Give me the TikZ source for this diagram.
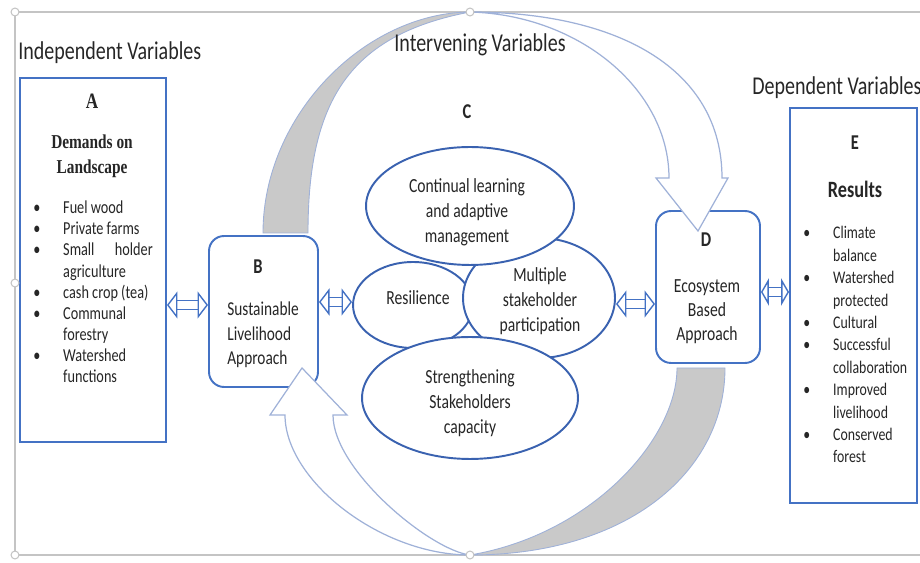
\documentclass[tikz,border=0pt]{standalone}
\usepackage{fontspec}
\setmainfont{Carlito}[FakeStretch=0.78]
\newfontfamily\timesfont{Liberation Serif}[FakeStretch=0.78]
\usetikzlibrary{shapes.geometric,arrows.meta}
\definecolor{boxblue}{HTML}{4472C4}
\definecolor{ovalblue}{HTML}{3A62B0}
\definecolor{bandgray}{HTML}{C9C9C9}
\definecolor{bandline}{HTML}{9FB1D8}
\definecolor{framegray}{HTML}{C4C4C4}
\definecolor{inktext}{HTML}{262626}
\newcommand{\bitem}{\makebox[17pt][l]{\textbullet}}
\newcommand{\bpad}{\hspace*{17pt}}

\begin{document}
\begin{tikzpicture}[x=0.02cm,y=-0.02cm,
  every node/.style={text=inktext,inner sep=0pt},
  framebox/.style={draw=boxblue,line width=1.1pt,fill=white},
  roundbox/.style={framebox,rounded corners=0.3cm},
  oval/.style={ellipse,draw=ovalblue,line width=1.1pt,fill=white},
  ovaltext/.style={align=center,font=\fontsize{11.4}{14.2}\selectfont},
  heading/.style={font=\fontsize{14.6}{17}\selectfont},
  letter/.style={font=\fontsize{12}{14}\selectfont\bfseries},
  band/.style={fill=bandgray,draw=bandline,line width=0.5pt},
  hollow/.style={fill=white,draw=bandline,line width=0.7pt},
  link/.style={draw=boxblue,line width=0.8pt,double=white,double distance=4.6pt,
    {Triangle[open,length=#1,width=15.5pt]}-{Triangle[open,length=#1,width=15.5pt]}},
  link/.default=6pt,
  handle/.style={circle,draw=framegray,fill=white,line width=0.6pt,minimum size=4.5pt}]
  \useasboundingbox (0,0) rectangle (920,563);
  % outer frame of the figure
  \draw[framegray,line width=0.7pt] (920,12) -- (15,12) -- (15,555) -- (920,555);
  % back (grey) parts of the two curved arrows
  \draw[band] (263,233) .. controls (263,115) and (365,13) .. (470,12)
    .. controls (350,35) and (308,100) .. (308,233) -- cycle;
  \draw[band] (725,368) .. controls (725,470) and (630,555) .. (470,555)
    .. controls (590,535) and (677,440) .. (677,368) -- cycle;
  % A B D E
  \node[framebox,minimum width=2.92cm,minimum height=7.28cm] (boxA) at (93,260) {};
  \node[roundbox,minimum width=2.18cm,minimum height=3.02cm] (boxB) at (263.5,311.5) {};
  \node[roundbox,minimum width=2.08cm,minimum height=3.04cm] (boxD) at (708,287) {};
  \node[framebox,minimum width=2.54cm,minimum height=7.9cm] (boxE) at (853.5,305.5) {};
  % C
  \node[oval,minimum width=2.4cm,minimum height=1.72cm] (res) at (413,305) {};
  \node[oval,minimum width=3.04cm,minimum height=2.4cm] (mult) at (539,298) {};
  \node[oval,minimum width=4.16cm,minimum height=2.36cm] (learn) at (470,206) {};
  \node[oval,minimum width=4.32cm,minimum height=2.44cm] (capac) at (470,398) {};
  \node[ovaltext] (resT) at (418,298) {Resilience};
  \node[ovaltext] (multT) at (540,301) {Multiple\\stakeholder\\participation};
  \node[ovaltext] (learnT) at (467,212) {Continual learning\\and adaptive\\management};
  \node[ovaltext] (capacT) at (470,403) {Strengthening\\Stakeholders\\capacity};
  % front (white) parts with heads
  \draw[hollow] (470,12) .. controls (620,12) and (722,70) .. (722,178) -- (728,178)
    -- (698,231) -- (656,178) -- (669,178) .. controls (669,90) and (580,15) .. (470,12) -- cycle;
  \draw[hollow] (470,555) .. controls (380,555) and (285,480) .. (285,415) -- (270,415)
    -- (302,368) -- (347,415) -- (333,415) .. controls (333,470) and (430,550) .. (470,555) -- cycle;
  \node[handle] (h1) at (15,12) {};
  \node[handle] (h2) at (470,12) {};
  \node[handle] (h3) at (15,283) {};
  \node[handle] (h4) at (15,555) {};
  \node[handle] (h5) at (470,555) {};
  % two-way links
  \draw[link] (boxA.east |- 0,305) -- (boxB.west |- 0,305);
  \draw[link] (boxB.east |- 0,302) -- (res.west |- 0,302);
  \draw[link] (mult.east |- 0,304) -- (boxD.west |- 0,304);
  \draw[link=4.5pt] (boxD.east |- 0,292) -- (boxE.west |- 0,292);
  % texts
  \node[heading,anchor=west] (indep) at (18,53) {Independent Variables};
  \node[heading] (interv) at (480,45) {Intervening Variables};
  \node[heading,anchor=west] (dep) at (752,88) {Dependent Variables};
  \node[font={\timesfont\fontsize{12.5}{14}\selectfont\bfseries}] (letA) at (92,101) {A};
  \node[font={\timesfont\fontsize{11.2}{14.2}\selectfont\bfseries},align=center] (demand) at (92,156) {Demands on\\Landscape};
  \node[anchor=base west,align=left,font=\fontsize{10.4}{12.05}\selectfont] (listA) at (33,383)
    {\bitem Fuel wood\\ \bitem Private farms\\ \bitem\makebox[51pt][s]{Small\hfill holder}\\ \bpad agriculture\\
     \bitem cash crop (tea)\\ \bitem Communal\\ \bpad forestry\\ \bitem Watershed\\ \bpad functions};
  \node[letter] (letB) at (258,267) {B};
  \node[anchor=base west,align=left,font=\fontsize{11.2}{14.2}\selectfont] (textB) at (227,365)
    {Sustainable\\Livelihood\\Approach};
  \node[letter] (letC) at (467,112) {C};
  \node[letter] (letD) at (706,240) {D};
  \node[align=center,font=\fontsize{11.4}{13.6}\selectfont] (textD) at (707,312) {Ecosystem\\Based\\Approach};
  \node[letter] (letE) at (855,143) {E};
  \node[font=\fontsize{13.3}{15}\selectfont\bfseries] (resul) at (855,189) {Results};
  \node[anchor=base west,align=left,font=\fontsize{10.1}{12.76}\selectfont] (listE) at (803,463)
    {\bitem Climate\\ \bpad balance\\ \bitem Watershed\\ \bpad protected\\ \bitem Cultural\\ \bitem Successful\\
     \bpad collaboration\\ \bitem Improved\\ \bpad livelihood\\ \bitem Conserved\\ \bpad forest};
\end{tikzpicture}
\end{document}
